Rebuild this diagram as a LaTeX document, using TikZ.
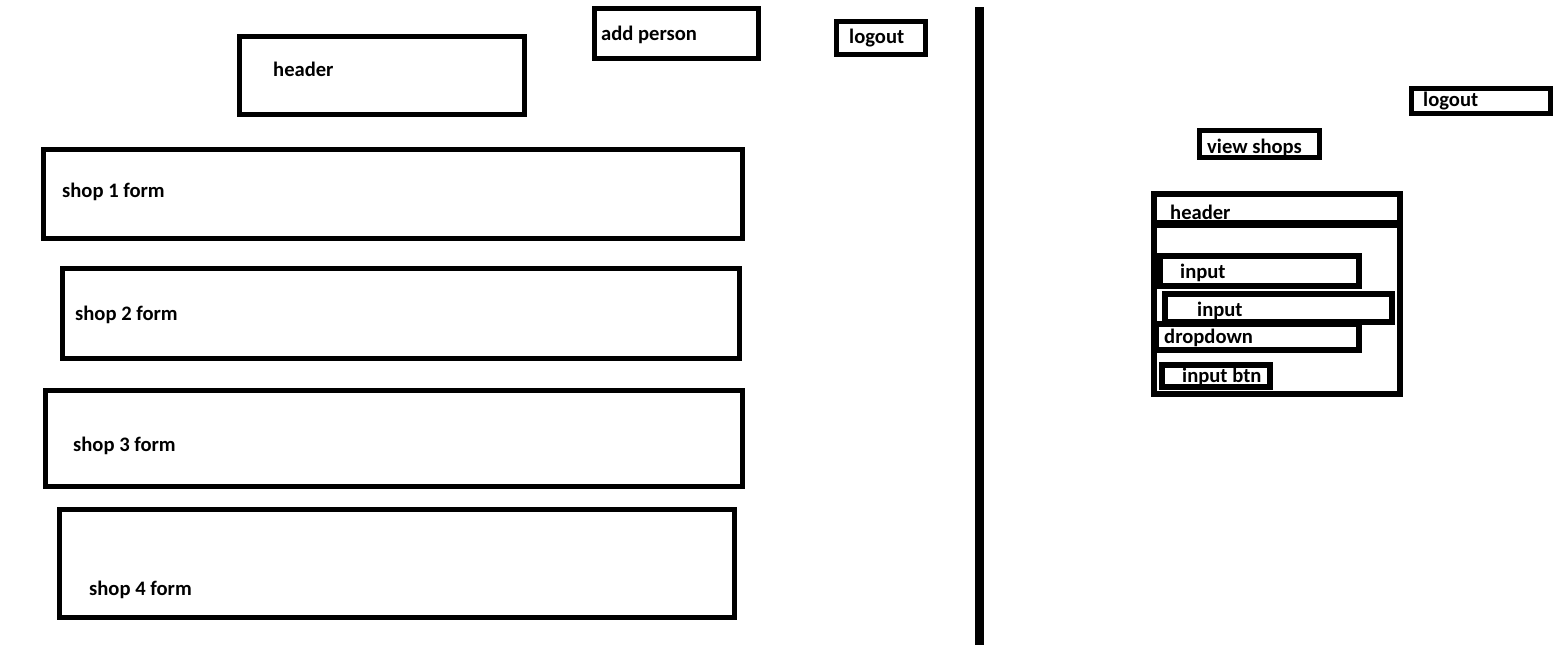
\documentclass[tikz,border=0pt]{standalone}
\usepackage{fontspec}
\setmainfont{Carlito}
\begin{document}
\begin{tikzpicture}[x=1pt,y=-1pt,
  box/.style={draw=black,line width=5pt,inner sep=0pt,fill=none},
  tbox/.style={draw=black,line width=6pt,inner sep=0pt,fill=none},
  lbl/.style={anchor=base west,inner sep=0pt,font=\fontsize{20.6}{24}\selectfont\bfseries}]
\useasboundingbox[fill=white] (0,0) rectangle (1566,645);

% left page: header, actions and the four shop forms
\node[box,minimum width=285pt,minimum height=78pt] (hdrL) at (382,75.5) {};
\node[box,minimum width=164pt,minimum height=50pt] (addp) at (676.5,33.5) {};
\node[box,minimum width=89pt,minimum height=33pt] (logoutL) at (881,38) {};
\node[box,minimum width=699pt,minimum height=89pt] (shopA) at (393,194) {};
\node[box,minimum width=677pt,minimum height=90pt] (shopB) at (401,313.5) {};
\node[box,minimum width=697pt,minimum height=96pt] (shopC) at (394,438.5) {};
\node[box,minimum width=675pt,minimum height=108pt] (shopD) at (397,563.5) {};

\node[lbl] (tHdrL) at (273,76) {header};
\node[lbl] (tAddp) at (601,40) {add person};
\node[lbl] (tLogoutL) at (849,43.5) {logout};
\node[lbl] (tShopA) at (62,197) {shop 1 form};
\node[lbl] (tShopB) at (75,320) {shop 2 form};
\node[lbl] (tShopC) at (73,451) {shop 3 form};
\node[lbl] (tShopD) at (89,595) {shop 4 form};

% divider between the two pages
\coordinate (divTop) at (979.5,7);
\coordinate (divBot) at (979.5,645);
\draw[line width=9pt] (divTop) -- (divBot);

% right page: actions and the shop form panel
\node[box,minimum width=139pt,minimum height=25pt] (logoutR) at (1481,101) {};
\node[box,minimum width=120pt,minimum height=27pt] (views) at (1259.5,144) {};
\node[tbox,minimum width=246pt,minimum height=29pt] (pHdr) at (1277,208.5) {};
\node[tbox,minimum width=246pt,minimum height=169pt] (pBody) at (1277,309.5) {};
\node[tbox,minimum width=199pt,minimum height=30pt] (inA) at (1259.5,271) {};
\node[tbox,minimum width=227pt,minimum height=28pt] (inB) at (1278.5,308) {};
\node[tbox,minimum width=203pt,minimum height=26pt] (drop) at (1257.5,337) {};
\node[tbox,minimum width=108pt,minimum height=22pt] (inBtn) at (1215.5,376) {};

\node[lbl] (tLogoutR) at (1423,106) {logout};
\node[lbl] (tViews) at (1207,153) {view shops};
\node[lbl] (tPHdr) at (1170,219) {header};
\node[lbl] (tInA) at (1180,278) {input};
\node[lbl] (tInB) at (1197,316) {input};
\node[lbl] (tDrop) at (1164,343) {dropdown};
\node[lbl] (tInBtn) at (1182,382.5) {input btn};
\end{tikzpicture}
\end{document}
